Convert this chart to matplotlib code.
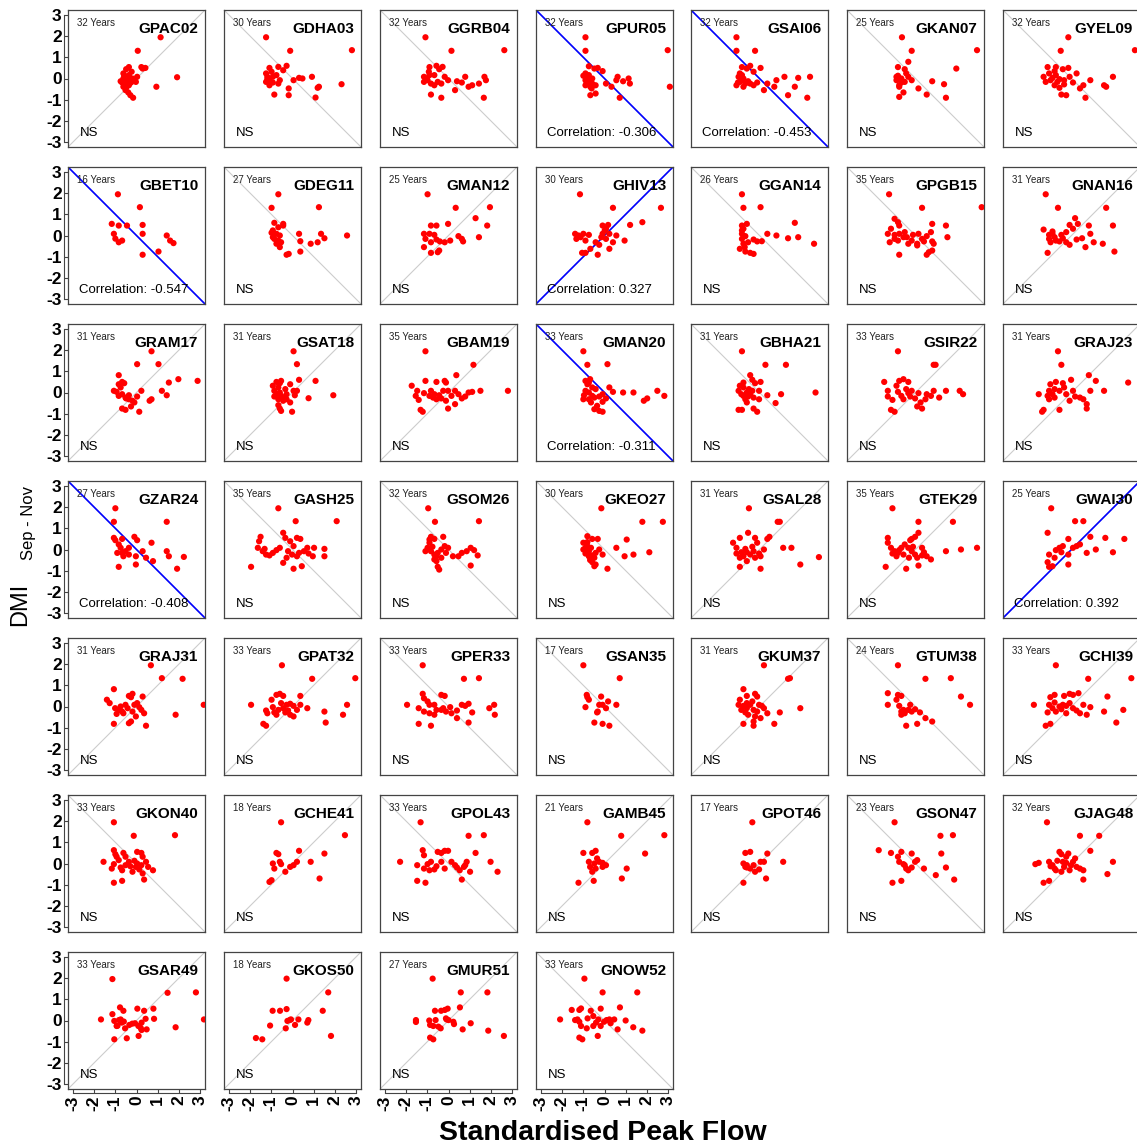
import matplotlib
matplotlib.use("Agg")
import matplotlib.pyplot as plt
import matplotlib.transforms as mtrans

plt.rcParams['font.family'] = ['Liberation Sans', 'DejaVu Sans']
plt.rcParams['axes.unicode_minus'] = False

# stations, record length, sign of the reference diagonal, significant correlations
stations = ["GPAC02", "GDHA03", "GGRB04", "GPUR05", "GSAI06", "GKAN07", "GYEL09",
            "GBET10", "GDEG11", "GMAN12", "GHIV13", "GGAN14", "GPGB15", "GNAN16",
            "GRAM17", "GSAT18", "GBAM19", "GMAN20", "GBHA21", "GSIR22", "GRAJ23",
            "GZAR24", "GASH25", "GSOM26", "GKEO27", "GSAL28", "GTEK29", "GWAI30",
            "GRAJ31", "GPAT32", "GPER33", "GSAN35", "GKUM37", "GTUM38", "GCHI39",
            "GKON40", "GCHE41", "GPOL43", "GAMB45", "GPOT46", "GSON47", "GJAG48",
            "GSAR49", "GKOS50", "GMUR51", "GNOW52"]
years = [32, 30, 32, 32, 32, 25, 32,
         16, 27, 25, 30, 26, 35, 31,
         31, 31, 35, 33, 31, 33, 31,
         27, 35, 32, 30, 31, 35, 25,
         31, 33, 33, 17, 31, 24, 33,
         33, 18, 33, 21, 17, 23, 32,
         33, 18, 27, 33]
diag = [1, -1, -1, -1, -1, -1, -1,
        -1, -1, 1, 1, -1, -1, 1,
        1, 1, 1, -1, -1, 1, 1,
        -1, -1, -1, -1, 1, 1, 1,
        1, 1, -1, -1, 1, -1, 1,
        -1, 1, -1, 1, 1, -1, 1,
        1, 1, 1, -1]
correlation = {"GPUR05": -0.306, "GSAI06": -0.453, "GBET10": -0.547, "GHIV13": 0.327,
               "GMAN20": -0.311, "GZAR24": -0.408, "GWAI30": 0.392}

# standardised peak flow (x) and DMI Sep-Nov (y)
x_GPAC02 = [1.14, 0.06, 0.23, -0.36, -0.49, 0.29, -0.23, -0.62, -0.36, -0.62, -0.45, -0.19, -0.68, -0.42, -0.03, -0.62,
            -0.36, -0.52, -0.29, -0.16, 0.94, 1.92, -0.1, -0.58, -0.26, -0.49, -0.75, 0.03, -0.39, 0.42, -0.55, -0.32]
y_GPAC02 = [1.95, 1.31, 0.54, 0.54, 0.44, 0.47, 0.32, 0.24, 0.16, 0, -0.08, 0, -0.19, -0.24, -0.16, -0.39,
            -0.32, -0.55, -0.79, -0.91, -0.39, 0.06, -0.08, 0.13, -0.19, -0.44, -0.13, 0.08, -0.66, 0.5, -0.32, 0.03]
x_GDHA03 = [-1.25, -0.11, 2.81, -1.09, -0.67, -0.28, -1.25, -0.93, -1.25, -1.09, -0.67, -0.86, -0.18, -0.18, 0.05,
            0.31, 0.47, 0.92, 1.25, 1.19, 1.09, 2.32, -1.19, -1.09, -0.93, -1.19, -0.6, -0.99, -0.44, -0.76]
y_GDHA03 = [1.95, 1.31, 1.34, 0.5, 0.55, 0.6, 0.24, 0.08, -0.16, -0.32, -0.24, -0.76, -0.47, -0.79, -0.08,
            0.03, 0, 0.08, -0.39, -0.44, -0.9, -0.27, 0.08, -0.08, -0.19, -0.03, -0.08, 0.32, 0.39, 0.16]
x_GGRB04 = [-1.09, 0.14, 2.64, -0.9, -0.57, -0.28, -1.16, -0.99, -0.83, -0.51, -0.18, 0.4, 0.79, 0.95, 1.44, 1.7,
            1.77, 1.67, -0.34, -0.83, 0.31, -0.34, -0.67, -1.16, -0.93, -1.06, -0.67, -0.44, -0.02, 1.12, 0.63, -0.9]
y_GGRB04 = [1.95, 1.31, 1.34, 0.54, 0.6, 0.55, 0.08, -0.08, -0.24, -0.16, 0.08, -0.13, 0.08, -0.39, -0.24, 0.08,
            -0.08, -0.91, -0.91, -0.76, -0.55, -0.24, 0.16, -0.16, 0.32, 0, -0.32, 0.44, -0.08, -0.32, -0.19, 0.16]
x_GPUR05 = [-0.9, -0.9, 2.99, -0.74, -0.32, -0.09, -0.9, -0.74, -0.81, -0.58, -0.9, -0.74, -0.58, -0.9, -0.67, 0.62,
            0.88, 1.2, 1.14, 0.33, 0.72, -0.67, -0.42, 3.09, -0.48, -0.84, -0.61, -0.42, 0.07, -0.81, 0.56, -1.0]
y_GPUR05 = [1.95, 1.31, 1.34, 0.58, 0.5, 0.35, 0.24, 0.16, 0.08, 0, -0.08, -0.16, -0.24, -0.32, -0.39, 0.08,
            -0.13, -0.24, 0, -0.39, -0.91, -0.79, -0.71, -0.39, 0.47, -0.19, -0.47, -0.32, -0.24, 0.03, -0.08, 0.13]
x_GSAI06 = [-1.09, -1.09, -0.21, -0.83, -0.44, 0.05, -0.28, -0.93, -0.99, -0.76, -0.93, -0.67, -0.44, -1.09, -0.76, 0.37,
            0.8, 0.7, 1.18, 1.67, 1.83, 2.39, 1.35, 2.26, 0.21, -0.6, -0.86, -1.02, -0.54, -0.11, -0.83, -0.28]
y_GSAI06 = [1.95, 1.31, 1.31, 0.54, 0.6, 0.5, 0.32, 0.24, 0.08, 0, -0.16, -0.24, -0.24, -0.32, -0.39, -0.24,
            -0.08, -0.39, 0.08, -0.39, 0.03, 0.08, -0.79, -0.91, -0.55, 0.47, -0.08, -0.19, -0.13, -0.19, 0.16, -0.32]
x_GKAN07 = [-0.64, -0.18, 2.91, -0.34, -0.83, -0.51, -0.9, -0.67, -0.34, -0.77, -0.51, -0.77, -0.57, -0.77, 0.14,
            1.93, 0.79, 1.35, 0.53, 1.44, -0.9, -0.44, -0.18, -0.67, -0.83]
y_GKAN07 = [1.95, 1.31, 1.34, 0.79, 0.54, 0.44, 0.08, 0, 0.08, -0.32, -0.16, -0.39, -0.66, -0.87, -0.47,
            0.47, -0.13, -0.27, -0.76, -0.91, -0.08, 0.24, -0.08, -0.19, 0.13]
x_GYEL09 = [-0.15, -0.51, 3.0, -1.13, -0.74, -0.41, -0.8, -1.32, -0.9, -0.67, -0.8, -0.35, -0.09, 0.89, 1.96, 1.54,
            1.64, 0.4, -0.25, 0.66, -0.48, -0.99, -0.57, 0.07, 0.24, -1.06, -0.74, -0.35, -0.15, -1.22, 0.56, -0.57]
y_GYEL09 = [1.95, 1.31, 1.34, 0.54, 0.54, 0.44, 0.35, 0.08, 0.03, -0.16, -0.32, -0.28, 0.08, -0.08, 0.08, -0.32,
            -0.39, -0.47, -0.79, -0.91, -0.76, -0.08, -0.03, -0.19, 0.24, 0.24, 0.16, -0.08, 0.5, -0.16, -0.32, -0.44]

x_GBET10 = [-0.88, 0.16, -1.17, -0.84, -0.45, 0.29, -1.07, 0.29, -0.68, -0.84, 1.43, 1.59, 1.75, 0.29, 1.04, -1.0]
y_GBET10 = [1.95, 1.34, 0.55, 0.47, 0.47, 0.5, 0.08, 0.08, -0.24, -0.32, 0, -0.24, -0.36, -0.91, -0.76, -0.15]
x_GDEG11 = [-0.67, -0.99, 1.25, -0.86, -0.44, -0.67, -0.93, -0.76, -0.93, -0.67, -0.54, -0.6, -0.18, 0.37, 0.31,
            0.37, 0.86, 1.19, 1.35, 1.51, 2.58, -0.86, -0.44, -0.76, -0.99, -0.28, -0.6]
y_GDEG11 = [1.95, 1.31, 1.34, 0.6, 0.55, 0.39, 0.24, 0.08, -0.08, -0.24, -0.32, -0.55, -0.87, -0.76, 0.08,
            -0.27, -0.39, -0.32, 0.08, -0.13, 0, -0.16, 0.47, -0.39, 0.13, -0.91, 0]
x_GMAN12 = [-0.99, 0.34, 1.96, -0.83, -0.57, -0.02, -1.16, -0.67, -1.09, -0.41, 0.08, 0.63, 0.69, 1.28, 1.44, 1.83,
            -1.16, -0.83, -0.51, -0.44, -0.9, -0.57, -0.18, 0.47, -0.83]
y_GMAN12 = [1.95, 1.31, 1.34, 0.47, 0.47, 0.55, 0.08, 0.03, -0.16, -0.28, -0.24, -0.16, -0.28, 0.82, -0.08, 0.47,
            -0.55, -0.82, -0.79, -0.71, 0.08, -0.19, -0.32, -0.03, -0.32]
x_GHIV13 = [-1.16, 0.4, 2.67, -1.39, -1.23, -1.0, -1.33, -0.9, -0.09, 0.17, 0.07, -0.09, -0.15, 0.07, 0.23, 0.4,
            0.23, 0.95, 1.21, 1.79, -1.06, -0.9, -0.32, -0.25, -0.67, -1.13, -0.42, 0.01, 0.56, -0.74]
y_GHIV13 = [1.95, 1.31, 1.31, 0.08, 0, 0.08, -0.16, -0.24, 0.47, 0.5, 0.32, 0.08, -0.08, -0.16, 0.08, -0.32,
            -0.63, -0.24, 0.5, 0.63, -0.82, -0.82, -0.91, -0.44, -0.63, -0.08, -0.32, 0.24, 0, 0.03]
x_GGAN14 = [-0.83, -0.76, 0.05, -0.6, -0.83, -0.76, -0.83, -0.83, -0.76, -0.7, -0.67, -0.28, -0.44, -0.11, 0.11,
            0.37, 0.8, 1.35, 1.67, 1.83, 2.58, -0.83, -0.67, -0.54, -0.28, -0.93]
y_GGAN14 = [1.95, 1.31, 1.34, 0.55, 0.47, 0.32, 0.08, -0.16, -0.39, -0.55, -0.76, -0.87, -0.82, -0.28, -0.27,
            0.08, 0, -0.13, 0.6, -0.08, -0.39, 0.24, -0.03, -0.32, -0.19, -0.63]
x_GPGB15 = [-1.25, 0.31, 3.13, -0.99, -0.83, -0.77, -1.16, -1.31, -0.99, -0.77, -0.57, -1.22, -0.83, -0.41, -0.18,
            0.08, 0.31, 0.14, 0.53, 0.79, 0.73, 0.79, 0.86, 1.44, 1.51, -0.77, 0.08, 0.63, 0.79, 0.53, -0.51, -0.99,
            -0.12, 0.4, -0.34]
y_GPGB15 = [1.95, 1.31, 1.34, 0.79, 0.63, 0.47, 0.32, 0.08, 0.03, 0.08, -0.08, -0.32, -0.24, -0.08, -0.24,
            -0.39, -0.16, 0.08, -0.03, 0.55, 0.16, -0.28, -0.39, 0.47, -0.08, -0.91, -0.47, -0.79, -0.71, -0.91, 0.16,
            -0.16, 0.03, -0.28, -0.39]
x_GNAN16 = [-1.22, -0.64, 1.64, 0.17, -0.09, 0.3, 0.82, -1.32, -0.9, -0.8, -1.06, -0.99, -0.25, -0.48, -0.25, 0.5,
            0.89, 1.05, 1.48, 1.96, 2.03, -1.13, 0.66, -1.06, -0.74, 0.07, -0.41, -0.9, 0.24, -0.09, -0.57]
y_GNAN16 = [1.95, 1.31, 1.31, 0.82, 0.5, 0.55, 0.47, 0.28, 0.08, -0.08, -0.16, -0.32, -0.32, 0.03, 0.16, -0.13,
            0.08, -0.32, -0.39, 0.47, -0.76, -0.82, -0.55, 0.03, -0.24, 0.32, -0.13, 0.19, -0.19, -0.44, -0.28]

x_GRAM17 = [0.71, 0.03, 1.04, -0.84, -0.68, -0.84, -0.58, -1.07, -0.94, -0.68, -0.52, -0.36, -0.19, -0.1, -0.49,
            -0.68, -0.52, 0.13, 0.23, 0.62, 0.71, 1.2, 1.43, 1.53, 1.98, 2.89, -0.75, -0.36, -0.84, 0.03, -0.26]
y_GRAM17 = [1.95, 1.34, 1.34, 0.82, 0.5, 0.39, 0.44, 0.08, 0.03, -0.08, -0.24, -0.32, -0.39, -0.47, -0.28,
            -0.76, -0.82, -0.91, 0.08, -0.39, -0.32, 0.08, -0.13, 0.47, 0.63, 0.55, 0.24, -0.13, -0.16, -0.19, -0.66]
x_GSAT18 = [0.05, 0.21, -0.76, -0.6, -0.67, -0.86, -0.6, -0.54, -0.67, -0.44, -0.28, 0.05, 0.21, 0.31, 1.09, 0.76,
            1.93, -0.6, -0.54, -0.02, -0.11, -0.76, -0.34, -0.86, -0.44, -0.11, -0.93, 0.11, -0.67, -0.28, -0.54]
y_GSAT18 = [1.95, 1.34, 0.5, 0.44, 0.24, 0.08, 0, -0.16, -0.32, -0.24, -0.08, 0.08, 0.08, 0.6, 0.55, -0.27,
            -0.13, -0.76, -0.87, -0.91, -0.47, -0.08, 0.16, -0.19, -0.39, 0.39, 0.32, -0.13, -0.6, -0.32, 0.55]
x_GBAM19 = [-1.09, 1.18, 0.37, -1.09, -0.57, -0.18, -0.12, -1.74, -1.48, -0.83, -0.25, -0.02, -1.41, -0.9, -0.73,
            -0.57, -0.34, 0.14, 0.47, 0.63, 0.95, 1.51, 2.81, -0.02, 0.31, -1.32, -1.22, -0.67, -1.16, -0.44, 0.79,
            1.12, -1.55, -0.12, 0.31]
y_GBAM19 = [1.95, 1.31, 0.82, 0.55, 0.5, 0.55, 0.47, 0.32, 0.08, 0.08, 0.08, 0.08, -0.35, -0.16, -0.24,
            -0.32, -0.28, -0.16, -0.08, -0.28, 0, 0.08, 0.08, -0.76, -0.55, -0.82, -0.91, -0.08, -0.03, -0.13, -0.19,
            0.03, -0.16, -0.39, 0.08]
x_GMAN20 = [-1.0, -0.81, 0.14, -0.9, -0.74, -0.81, -0.58, -0.9, -0.74, -0.97, -0.58, -0.74, -0.48, -0.25, 0.07,
            -0.09, -0.35, -0.25, -0.09, -0.48, 0.4, 0.88, 1.37, 1.86, 2.02, 2.5, 2.83, -0.42, 0.23, -0.68, -1.0,
            -0.09, -0.64]
y_GMAN20 = [1.95, 1.31, 1.34, 0.55, 0.47, 0.39, 0.24, 0.08, 0, -0.13, -0.16, -0.32, -0.24, -0.19, -0.28,
            -0.44, -0.63, -0.87, -0.91, -0.79, 0.03, 0, 0, -0.39, -0.28, 0.08, -0.16, 0.16, 0.24, 0.63, -0.32,
            -0.08, -0.47]
x_GBHA21 = [-0.83, 0.28, 1.25, -0.44, -0.34, -0.21, -0.76, -0.93, -0.99, -0.6, -0.76, -0.44, -0.02, -0.02, 0.37,
            1.02, 0.76, 2.65, -0.83, -0.28, -0.11, -0.67, -0.5, -0.86, -0.28, -0.6, -0.99, 0.05, -0.34, -0.76, -0.54]
y_GBHA21 = [1.95, 1.31, 1.31, 0.82, 0.6, 0.44, 0.47, 0.32, 0.08, 0, -0.16, -0.08, 0.08, -0.32, -0.13,
            -0.08, -0.5, 0, -0.82, -0.76, -0.91, -0.32, 0.16, -0.08, -0.24, -0.47, -0.82, 0.5, 0.08, 0.24, -0.19]
x_GSIR22 = [-0.83, 0.86, 0.95, -1.48, -0.77, -0.57, -0.34, -1.31, -0.83, -0.18, -0.34, -0.67, -1.09, -0.57, -0.02,
            0.24, 0.47, 0.73, 0.86, 1.12, 1.44, 2.09, 2.25, -1.16, -0.99, 0.31, 0.08, -0.44, -0.9, -0.25, 0.53,
            -1.31, 0.14]
y_GSIR22 = [1.95, 1.31, 1.31, 0.5, 0.55, 0.63, 0.5, 0.08, 0.03, 0.08, -0.03, -0.16, -0.35, -0.32, -0.28,
            -0.47, -0.32, -0.16, 0.08, -0.24, 0.08, 0.08, -0.08, -0.82, -0.91, -0.76, -0.66, 0.16, 0.32, -0.19, -0.08,
            -0.19, -0.03]
x_GRAJ23 = [-0.64, -0.48, 0.82, -1.0, -0.41, -0.02, -1.55, -1.06, -0.8, -0.57, -0.8, -1.06, 0.07, 0.4, 0.56, 0.72,
            0.72, 1.15, 1.54, 2.68, -1.39, -1.32, -0.57, -0.25, -0.9, 0.17, -0.35, -1.13, 0.89, -0.09, -0.74]
y_GRAJ23 = [1.95, 1.31, 0.82, 0.39, 0.44, 0.6, -0.08, 0.08, 0.16, 0.08, -0.24, -0.32, 0.08, -0.24, -0.32, -0.55,
            -0.76, 0.55, 0.08, 0.47, -0.91, -0.82, -0.82, -0.08, -0.08, -0.19, 0.24, -0.16, 0.08, -0.39, 0.5]

x_GZAR24 = [-1.0, -1.07, 1.43, -1.07, -1.0, -0.68, -0.84, -0.75, -0.52, -0.36, -0.68, -0.1, 0.03, -0.03, 0.71,
            0.29, 0.45, 0.78, 1.43, 1.53, 1.92, 2.24, -0.84, -0.03, -0.91, -0.36, -0.62]
y_GZAR24 = [1.95, 1.31, 1.31, 0.55, 0.44, 0.5, 0.24, 0.08, -0.08, -0.24, -0.16, 0.6, 0.44, -0.32, 0.32,
            -0.08, -0.39, -0.55, -0.08, -0.32, -0.91, -0.35, -0.82, -0.71, -0.16, 0.08, -0.32]
x_GASH25 = [-0.67, 0.15, 2.09, -1.51, -1.58, -1.64, -1.41, -1.25, -1.09, -0.93, -0.6, -0.44, -0.34, -0.11, 0.21,
            0.37, 0.05, -0.21, -0.02, 0.21, 0.54, 0.7, 1.02, 0.96, 1.51, 1.51, -1.96, -0.44, 0.05, 0.44, -1.32, -0.76,
            0.31, 0.76, -0.28]
y_GASH25 = [1.95, 1.34, 1.34, 0.6, 0.39, 0.08, -0.08, -0.24, -0.28, -0.16, 0.08, 0.79, 0.55, 0.39, 0.55,
            0.5, 0.16, -0.08, -0.24, -0.32, -0.08, 0.08, 0.08, -0.32, 0.03, -0.32, -0.82, -0.63, -0.91, -0.79, 0.03,
            -0.03, -0.16, -0.19, -0.39]
x_GSOM26 = [-0.96, -0.64, 1.44, -0.83, -0.67, -0.9, -0.99, -0.83, -0.67, -0.57, -0.34, -0.25, -0.18, -0.02, 0.21,
            0.63, 0.86, 1.05, 1.21, 1.38, 1.05, -0.57, -0.51, -0.44, -0.67, -1.09, -0.76, -0.51, -0.12, 0.47, -0.9,
            -0.34]
y_GSOM26 = [1.95, 1.31, 1.34, 0.6, 0.5, 0.32, 0.08, -0.08, -0.24, -0.32, 0, 0.6, 0.16, 0.08, -0.32,
            -0.16, -0.08, 0.08, -0.03, -0.28, -0.76, -0.55, -0.82, -0.95, -0.47, -0.08, 0.13, -0.16, -0.16, -0.32,
            0.47, -0.39]
x_GKEO27 = [-0.15, 1.79, 2.76, -0.81, -0.58, -0.32, -1.0, -0.9, -0.74, -0.9, -0.58, -0.48, -0.68, -0.48, 0.14,
            -0.42, 0.56, 1.05, 0.95, 1.37, 2.12, -0.81, -0.42, -0.74, -1.0, -0.25, -0.58, -0.81, -0.09, -0.64]
y_GKEO27 = [1.95, 1.31, 1.31, 0.63, 0.5, 0.5, 0.32, 0.08, -0.08, -0.19, -0.28, -0.39, -0.5, -0.79, -0.91,
            -0.71, 0.08, 0.47, -0.32, -0.24, -0.13, 0.16, -0.16, -0.32, 0, 0, -0.6, 0.35, -0.24, 0.08]
x_GSAL28 = [-0.5, 0.86, 0.96, -0.54, -1.25, -0.93, -0.21, 0.37, -1.09, -0.67, -0.6, -0.44, -0.76, -0.93, -0.28,
            -0.02, 0.05, 0.47, 1.12, 1.51, 1.93, 2.81, -0.93, 0.05, -0.6, -0.86, -0.34, 0.21, -0.21, -1.09, -0.11]
y_GSAL28 = [1.95, 1.31, 1.31, 0.79, 0.32, 0.55, 0.55, 0.5, 0.08, 0.03, -0.13, -0.24, -0.32, -0.39, -0.08,
            -0.19, -0.32, 0.6, 0.08, 0.08, -0.71, -0.36, -0.82, -0.91, -0.55, -0.13, 0.13, 0, -0.39, -0.19, 0.32]
x_GTEK29 = [-1.09, 0.14, 1.77, -1.31, -1.31, -1.16, -0.99, -0.83, -0.67, -0.57, -0.18, -0.02, 0.14, -0.34, -0.18,
            -0.02, 0.08, 0.31, 0.53, 0.73, 1.44, 2.15, 2.91, -1.41, -0.44, 0.14, 0.31, -0.9, -0.51, -0.77, -0.25,
            -0.12, -1.09, 0.4, -0.31]
y_GTEK29 = [1.95, 1.31, 1.31, 0.55, 0.32, 0.08, -0.08, -0.16, 0.08, -0.24, 0.5, 0.6, 0.79, 0.08, -0.08,
            -0.24, -0.39, 0.08, -0.32, -0.47, -0.08, 0, 0.08, -0.82, -0.91, -0.76, -0.28, -0.32, 0.24, -0.03, 0.44,
            0.13, -0.19, -0.13, -0.39]
x_GWAI30 = [-0.96, 0.17, 0.56, -1.13, -0.15, 0.89, 1.6, 2.5, -0.57, -0.41, 0.07, 0.24, -0.74, -1.06, -0.8, -0.15,
            0.72, 1.15, 1.96, -1.06, -0.9, -0.15, -1.13, -0.48, 0.4]
y_GWAI30 = [1.95, 1.34, 1.34, 0.79, 0.5, 0.6, 0.55, 0.5, 0.08, 0.16, 0.08, 0.16, -0.03, -0.24, -0.39, -0.24,
            -0.16, 0, -0.13, -0.82, -0.79, -0.71, -0.6, -0.13, 0.24]

x_GRAJ31 = [0.68, 1.2, 2.18, -1.07, -1.4, -1.27, -1.01, -0.84, -0.68, -0.52, -0.36, -0.19, -0.26, -0.1, 0.03, -0.42,
            0.29, 0.23, 0.36, -0.03, -0.36, -0.26, 0.45, -1.07, 1.85, 3.18, -0.75, -0.62, -0.19, 0.13, -0.94]
y_GRAJ31 = [1.95, 1.34, 1.31, 0.82, 0.32, 0.16, -0.08, -0.16, -0.24, 0.08, 0.5, 0.6, 0.44, 0.08, 0.16, -0.08,
            0.47, -0.16, -0.32, -0.47, -0.79, -0.71, -0.91, -0.82, -0.39, 0.08, 0, -0.32, -0.24, -0.03, -0.35]
x_GPAT32 = [-0.5, 0.93, 2.97, -1.96, -1.25, -1.19, -1.38, -1.25, -0.76, -0.6, -0.44, -0.28, -0.11, -0.44, -0.67,
            -0.86, -0.34, -0.11, 0.05, 0.21, 0.37, 0.7, 1.51, 1.57, 2.39, 2.58, -0.93, -0.54, 0.05, -0.99, -0.21,
            0.37, -0.76]
y_GPAT32 = [1.95, 1.31, 1.34, 0.08, -0.19, -0.32, -0.82, -0.91, 0.55, 0.6, 0.5, 0.08, 0.13, -0.08, -0.16,
            -0.28, -0.28, -0.39, -0.47, -0.16, 0.5, -0.08, -0.24, -0.76, -0.39, 0.08, -0.03, 0.16, 0.03, 0.32, -0.19,
            0.08, -0.39]
x_GPER33 = [-1.22, 0.73, 1.44, -1.96, -1.22, -1.16, -0.9, -1.41, -1.16, -0.9, -0.67, -0.34, -0.18, -0.57, -0.25,
            -0.12, 0.14, 0.4, 0.63, 0.79, 0.95, 0.4, 0.95, -1.41, -0.83, 1.93, 2.16, 2.19, -0.34, -0.99, 0.08, -0.67,
            1.12]
y_GPER33 = [1.95, 1.31, 1.34, 0.08, 0.6, 0.39, 0.08, -0.08, -0.24, -0.32, 0.08, 0.55, 0.5, -0.16, -0.08,
            -0.24, -0.32, -0.19, 0.08, 0.03, 0.13, -0.55, -0.76, -0.82, -0.91, -0.08, 0.08, -0.39, -0.16, 0.24, -0.03,
            -0.39, -0.28]
x_GSAN35 = [-1.0, 0.72, -0.84, -0.81, -0.16, -0.9, -0.25, -0.09, -0.35, 0.07, 0.56, -0.48, -0.09, 0.23, -0.32,
            -0.74, 0.17]
y_GSAN35 = [1.95, 1.34, 0.55, 0.44, 0.47, -0.03, 0.08, 0.08, -0.28, -0.08, 0.08, -0.76, -0.82, -0.91, -0.24,
            0.32, 0.24]
x_GKUM37 = [0.21, 1.35, 1.44, -0.76, -0.93, -0.6, -0.21, -0.11, -0.99, -0.76, -0.6, -0.44, -0.28, -0.67, -0.54,
            -0.02, -0.11, 0.21, 0.37, 0.96, 1.93, -0.76, -0.28, -0.28, 0.7, 0.05, -0.86, -0.34, 0.11, -0.6, -0.21]
y_GKUM37 = [1.95, 1.31, 1.34, 0.82, 0.32, 0.5, 0.6, 0.47, 0.08, 0.03, -0.08, 0.08, -0.16, -0.28, -0.39,
            0.08, -0.24, -0.08, -0.32, -0.28, -0.08, -0.82, -0.71, -0.91, -0.82, -0.55, -0.16, 0.24, 0.03, 0.16, -0.47]
x_GTUM38 = [-0.83, 0.47, 1.67, -1.31, -0.83, -0.67, -1.31, -0.77, -0.67, -0.51, -0.34, -0.18, -0.02, 0.47, 0.79,
            -0.44, 0.08, 2.15, 2.58, -0.67, -0.57, -0.9, -0.25, 0.21]
y_GTUM38 = [1.95, 1.31, 1.34, 0.63, 0.55, 0.5, 0.08, 0.03, -0.24, -0.32, -0.16, -0.24, -0.13, -0.55, -0.71,
            -0.91, -0.82, 0.47, 0.08, -0.39, -0.16, 0.32, 0.08, -0.28]
x_GCHI39 = [-0.74, 0.79, 2.83, -1.78, -1.0, -0.8, -0.35, -0.09, 0.07, 0.33, -1.06, -0.9, -0.74, -0.57, -0.41,
            -0.09, -0.25, 0.56, 0.4, 0.72, 1.7, 1.54, 2.45, 2.12, -1.22, -1.0, -0.48, 0.07, -0.8, 0.24, -1.13, 0.89,
            -0.25]
y_GCHI39 = [1.95, 1.31, 1.34, 0.08, 0.44, 0.55, 0.5, 0.6, 0.55, 0.63, 0.08, -0.08, -0.24, 0, 0.08,
            0.16, 0.03, 0.08, -0.32, -0.39, 0.47, -0.24, -0.16, -0.76, -0.91, -0.82, -0.13, -0.08, 0.19, -0.19, -0.28,
            -0.03, -0.32]

x_GKON40 = [-1.07, -0.13, 1.82, -1.56, -1.07, -1.0, -1.07, -1.17, -0.75, -0.62, -0.52, -0.68, -0.36, -0.1, 0.03,
            0.23, 0.29, 0.03, 0.23, -0.03, 0.13, 0.29, 0.36, 0.55, 0.78, -1.07, -0.68, -0.84, -0.29, 0.45, -0.94,
            -0.19, -0.52]
y_GKON40 = [1.95, 1.31, 1.34, 0.08, 0.63, 0.44, -0.03, -0.24, -0.19, 0.5, 0.32, -0.32, 0.08, 0.13, 0.55,
            0.5, 0.32, 0, -0.08, -0.16, -0.28, -0.47, -0.76, -0.16, -0.32, -0.91, -0.82, 0.16, -0.13, 0.08, 0.32,
            -0.39, -0.08]
x_GCHE41 = [-0.54, 2.48, -0.76, -0.67, 0.31, 1.51, -0.93, -0.86, -0.6, -0.34, -0.11, 0.21, 0.86, 1.28, -1.09,
            -0.99, 0.05, -0.54]
y_GCHE41 = [1.95, 1.34, 0.5, 0.44, 0.6, 0.47, 0, -0.24, 0.08, -0.39, -0.16, 0.08, 0.08, -0.71, -0.87,
            -0.79, -0.08, -0.03]
x_GPOL43 = [-1.32, 0.95, 1.67, -2.29, -1.22, -1.16, -0.51, -0.34, -0.18, -0.02, -1.48, -1.16, -0.9, -0.67, -0.34,
            -0.83, 0.31, 0.4, 0.53, 0.73, 0.86, 1.02, 0.63, 1.28, 1.99, 2.32, -1.48, -1.09, -0.57, 0.14, -0.99,
            -0.18, 0.79]
y_GPOL43 = [1.95, 1.31, 1.34, 0.08, 0.63, 0.39, 0.55, 0.5, 0.6, 0.6, -0.08, -0.24, -0.32, -0.28, 0.08,
            0.08, -0.08, -0.19, -0.32, -0.16, 0.08, -0.39, -0.76, 0.5, 0.08, -0.39, -0.82, -0.91, -0.13, 0.08, -0.03,
            -0.24, -0.08]
x_GAMB45 = [-0.81, 0.79, 2.83, -1.0, -0.58, -0.42, -0.74, -0.48, -0.25, -0.09, -0.68, -0.42, -0.58, -0.09, 1.05,
            1.92, 0.82, -1.23, -0.51, 0.07, -0.35]
y_GAMB45 = [1.95, 1.31, 1.34, 0.5, 0.5, 0.6, 0.08, 0, 0.08, 0.03, -0.16, -0.24, -0.39, -0.16, -0.24,
            0.47, -0.71, -0.91, -0.82, -0.08, 0.24]
x_GPOT46 = [-0.34, -0.67, -0.44, 0.37, -0.76, -0.6, -0.67, -0.44, -0.21, -0.02, 0.05, 0.21, 1.12, 0.31, -0.76,
            -0.6, -0.28]
y_GPOT46 = [1.95, 0.5, 0.55, 0.47, 0, -0.08, -0.16, -0.24, -0.39, -0.28, 0.08, 0.08, 0.08, -0.71, -0.91,
            -0.19, -0.08]
x_GSON47 = [-0.99, 1.18, 1.77, -1.74, -1.16, -0.67, -0.18, -0.77, -0.51, -0.34, -0.18, -0.02, -0.44, 0.4, 0.96,
            1.22, 1.44, 1.83, -1.09, -0.67, 0.08, -0.57, -0.83]
y_GSON47 = [1.95, 1.31, 1.34, 0.63, 0.5, 0.55, 0.47, 0.08, -0.08, -0.32, -0.19, 0.08, -0.24, -0.24, -0.55,
            0.47, -0.19, -0.76, -0.91, -0.82, 0.16, -0.03, 0.32]
x_GJAG48 = [-1.16, 0.4, 1.31, -1.71, -1.06, -0.9, -0.8, -0.57, -0.48, -0.25, -0.15, -0.41, -0.25, -0.35, -0.09,
            0.24, 0.4, 0.56, 0.89, 1.96, 1.7, 0.56, -1.32, -1.06, -1.55, -0.67, 0.07, -0.74, -0.02, -0.99, -0.48, 0.17]
y_GJAG48 = [1.95, 1.31, 1.31, -0.03, 0.08, -0.08, -0.24, 0.55, 0.44, 0.32, 0.47, 0.08, 0.03, -0.16, -0.32,
            -0.16, -0.24, -0.32, 0.6, 0.08, -0.5, -0.76, -0.91, -0.82, 0.03, 0.13, 0.08, -0.32, -0.08, -0.13, -0.39,
            0.24]

x_GSAR49 = [-1.14, 1.47, 2.81, 3.19, -1.68, -1.14, -0.78, -0.62, -1.05, -0.94, -0.83, -0.7, -0.54, -0.46, -1.05,
            -0.34, -0.07, 0.04, 0.09, 0.24, 0.36, 0.43, 0.48, 0.24, 0.1, 0.8, 0.83, 1.85, -0.9, -0.75, -0.2, 0.2, -0.6]
y_GSAR49 = [1.96, 1.31, 1.33, 0.05, 0.05, 0.3, 0.62, 0.46, -0.02, -0.26, 0.02, -0.1, -0.37, -0.84, -0.89,
            -0.21, -0.13, 0.56, -0.26, -0.1, 0.46, 0.08, -0.42, -0.45, -0.73, 0.56, 0.08, -0.32, -0.25, 0.05, -0.15,
            -0.35, -0.05]
x_GKOS50 = [-0.28, 1.69, 1.43, 1.82, -0.94, -0.59, -0.28, -1.06, -1.73, -1.43, -0.32, -0.24, -0.07, 0.28, 0.12,
            0.75, 0.7, -0.12]
y_GKOS50 = [1.98, 1.33, 0.46, -0.73, 0.46, 0.46, 0.54, -0.24, -0.83, -0.89, -0.37, -0.02, 0.05, 0.05, -0.21,
            0.02, -0.1, 0.03]
x_GMUR51 = [-0.75, 0.58, 1.84, -1.54, -1.54, -0.64, -0.35, -0.17, -0.04, 0.54, -0.91, -0.87, -0.72, -0.61, -0.48,
            -0.37, -0.12, 0, 0.23, 0.26, 0.67, 1.05, 1.88, 2.62, -0.87, -0.72, -0.09]
y_GMUR51 = [1.98, 1.33, 1.33, 0.02, -0.07, 0.46, 0.46, 0.5, 0.56, 0.62, 0, -0.21, -0.26, 0.02, -0.29,
            -0.37, 0.1, 0.02, -0.06, -0.17, -0.42, -0.13, -0.48, -0.73, -0.81, -0.89, 0.05]
x_GNOW52 = [-0.95, -0.09, 1.55, -2.1, -1.55, -1.19, -1.11, -0.65, -0.18, 0.73, -1.39, -1.28, -1.19, -1.11, -0.84,
            -0.8, -0.53, -0.4, -0.29, -0.18, -0.02, 0.1, 0.23, 0.29, 0.46, 0.62, 1.0, 1.36, 1.79, -1.19, -1.05,
            -0.32, -0.53]
y_GNOW52 = [1.98, 1.33, 1.33, 0.05, 0.5, 0.5, 0.57, 0.46, 0.56, 0.62, 0.02, 0.05, -0.06, -0.26, -0.37,
            0.1, -0.26, -0.1, 0.05, -0.26, -0.06, 0.02, 0.05, -0.13, 0.05, -0.42, 0, -0.32, -0.48, -0.81, -0.89,
            -0.73, 0.21]

W, H = 1137, 1146
fig = plt.figure(figsize=(W / 100, H / 100), dpi=100)

col_left = [68, 224, 380, 536, 691, 847, 1003]
row_top = [10, 167, 324, 481, 638, 795, 952]
size = 137
lim = 3.24
ticks = [-3, -2, -1, 0, 1, 2, 3]
frame = "#444444"

for i, name in enumerate(stations):
    r, c = divmod(i, 7)
    ax = fig.add_axes([col_left[c] / W, 1 - (row_top[r] + size) / H, size / W, size / H])
    xs = globals()["x_" + name]
    ys = globals()["y_" + name]

    s = diag[i]
    ax.plot([-lim, lim], [-lim * s, lim * s], color="#cccccc", lw=0.8, zorder=1)
    if name in correlation:
        ax.plot([-lim, lim], [-lim * s, lim * s], color="blue", lw=1.2, zorder=2)
    ax.scatter(xs, ys, s=20, color="red", edgecolors="none", zorder=3)

    ax.set_xlim(-lim, lim)
    ax.set_ylim(-lim, lim)
    for sp in ax.spines.values():
        sp.set_color(frame)
        sp.set_linewidth(0.9)

    ax.text(-2.83, 2.64, f"{years[i]} Years", fontsize=7, ha="left", va="center", color="#222222")
    ax.text(2.92, 2.33, name, fontsize=11, fontweight="bold", ha="right", va="center")
    if name in correlation:
        ax.text(-2.7, -2.56, f"Correlation: {correlation[name]:.3f}", fontsize=9.5, ha="left", va="center")
    else:
        ax.text(-2.67, -2.59, "NS", fontsize=9.5, ha="left", va="center")

    if c == 0:
        ax.set_yticks(ticks)
        ax.set_yticklabels([str(t) for t in ticks], fontsize=12.5, fontweight="bold")
        ax.tick_params(axis="y", direction="out", length=3, width=0.8, pad=1.5, color=frame)
        off = mtrans.ScaledTranslation(-3 / 72, 0, fig.dpi_scale_trans)
        tr = mtrans.blended_transform_factory(ax.transAxes, ax.transData) + off
        ax.plot([0, 0], [-3, 3], transform=tr, color=frame, lw=0.8, clip_on=False)
    else:
        ax.set_yticks([])
    if r == 6:
        ax.set_xticks(ticks)
        ax.set_xticklabels([str(t) for t in ticks], fontsize=12.5, fontweight="bold", rotation=90)
        ax.tick_params(axis="x", direction="out", length=3, width=0.8, pad=1.5, color=frame)
        off = mtrans.ScaledTranslation(0, -3 / 72, fig.dpi_scale_trans)
        tr = mtrans.blended_transform_factory(ax.transData, ax.transAxes) + off
        ax.plot([-3, 3], [0, 0], transform=tr, color=frame, lw=0.8, clip_on=False)
    else:
        ax.set_xticks([])

# axis titles
fig.text(20 / W, 1 - 604 / H, "DMI", fontsize=17, rotation=90, ha="center", va="center")
fig.text(28 / W, 1 - 523 / H, "Sep - Nov", fontsize=12, rotation=90, ha="center", va="center")
fig.text(603 / W, 1 - 1133 / H, "Standardised Peak Flow", fontsize=20.5, fontweight="bold",
         ha="center", va="center")

fig.savefig("out.png", dpi=100)
